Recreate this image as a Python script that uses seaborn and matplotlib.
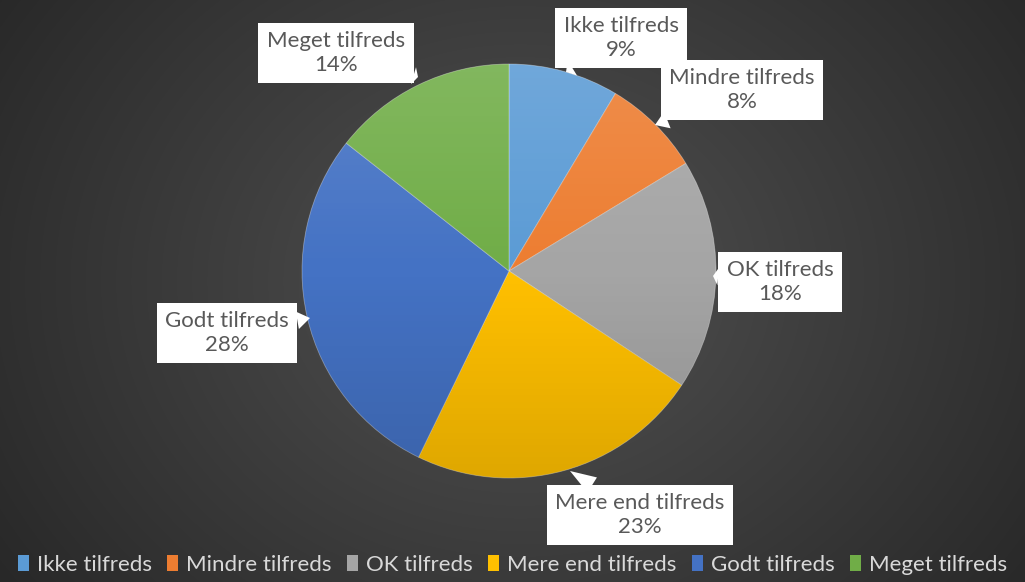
import numpy as np
import matplotlib
matplotlib.use("Agg")
import matplotlib.pyplot as plt
import seaborn as sns

categories = ['Ikke tilfreds', 'Mindre tilfreds', 'OK tilfreds',
              'Mere end tilfreds', 'Godt tilfreds', 'Meget tilfreds']
# slice sizes (percent)
shares = [8.6, 7.7, 18.0, 22.9, 28.4, 14.4]
colors = ['#5B9BD5', '#ED7D31', '#A5A5A5', '#FFC000', '#4472C4', '#70AD47']

sns.set_theme(style='white')
plt.rcParams['font.family'] = ['Lato', 'DejaVu Sans']

W, H = 1025, 582
fig = plt.figure(figsize=(W / 100, H / 100), dpi=100)
ax = fig.add_axes([0, 0, 1, 1])

# dark radial background
yy, xx = np.mgrid[0:H, 0:W]
d = np.sqrt(((xx - 520) / 620.0) ** 2 + ((yy - 300) / 520.0) ** 2)
shade = 0.32 - 0.16 * np.clip(d, 0, 1)
bg = np.dstack([shade, shade, shade])
ax.imshow(bg, extent=(0, W, 0, H), origin='lower', zorder=0)

cx, cy, r = 509, H - 271, 207
wedges, _ = ax.pie(shares, colors=colors, startangle=90, counterclock=False,
                   center=(cx, cy), radius=r,
                   wedgeprops=dict(edgecolor=(1, 1, 1, 0.35), linewidth=0.6),
                   frame=True)
ax.set_xlim(0, W)
ax.set_ylim(0, H)
ax.set_aspect('equal')
ax.axis('off')

# light-to-dark vertical sheen over the pie
g = np.linspace(0, 1, 256)[:, None]
sheen = np.zeros((256, 1, 4))
sheen[..., :3] = np.where(g[..., None] > 0.5, 1.0, 0.0)
sheen[..., 3] = np.abs(g - 0.5) * 0.26
im = ax.imshow(sheen, extent=(cx - r, cx + r, cy - r, cy + r), origin='lower',
               aspect='auto', zorder=3)
im.set_clip_path(plt.Circle((cx, cy), r, transform=ax.transData))

# callout labels: (box centre, pointer tip) in pixel coords from top
label_pos = {
    'Ikke tilfreds': ((621, 38), (566, 72)),
    'Mindre tilfreds': ((742, 90), (655, 125)),
    'OK tilfreds': ((780, 282), (713, 276)),
    'Mere end tilfreds': ((640, 515), (570, 471)),
    'Godt tilfreds': ((227, 333), (310, 318)),
    'Meget tilfreds': ((336, 53), (418, 77)),
}
for name, val in zip(categories, shares):
    (bx, by), (tx, ty) = label_pos[name]
    ax.annotate(f'{name}\n{round(val)}%', xy=(tx, H - ty), xytext=(bx, H - by),
                ha='center', va='center', fontsize=16, color='#595959',
                linespacing=1.2, zorder=6,
                bbox=dict(boxstyle='square,pad=0.38', fc='white', ec='none'),
                arrowprops=dict(arrowstyle='wedge,tail_width=0.8,shrink_factor=0.5',
                                fc='white', ec='none', shrinkA=0, shrinkB=0))

leg = fig.legend(wedges, categories, loc='lower center', ncol=6,
                 bbox_to_anchor=(0.5, -0.022), frameon=False, fontsize=16,
                 labelcolor='#D9D9D9', handlelength=0.5, handleheight=0.75,
                 handletextpad=0.35, columnspacing=0.7)
for h in leg.legend_handles:
    h.set_edgecolor('none')

fig.savefig('out.png', dpi=100, facecolor='#333333')
